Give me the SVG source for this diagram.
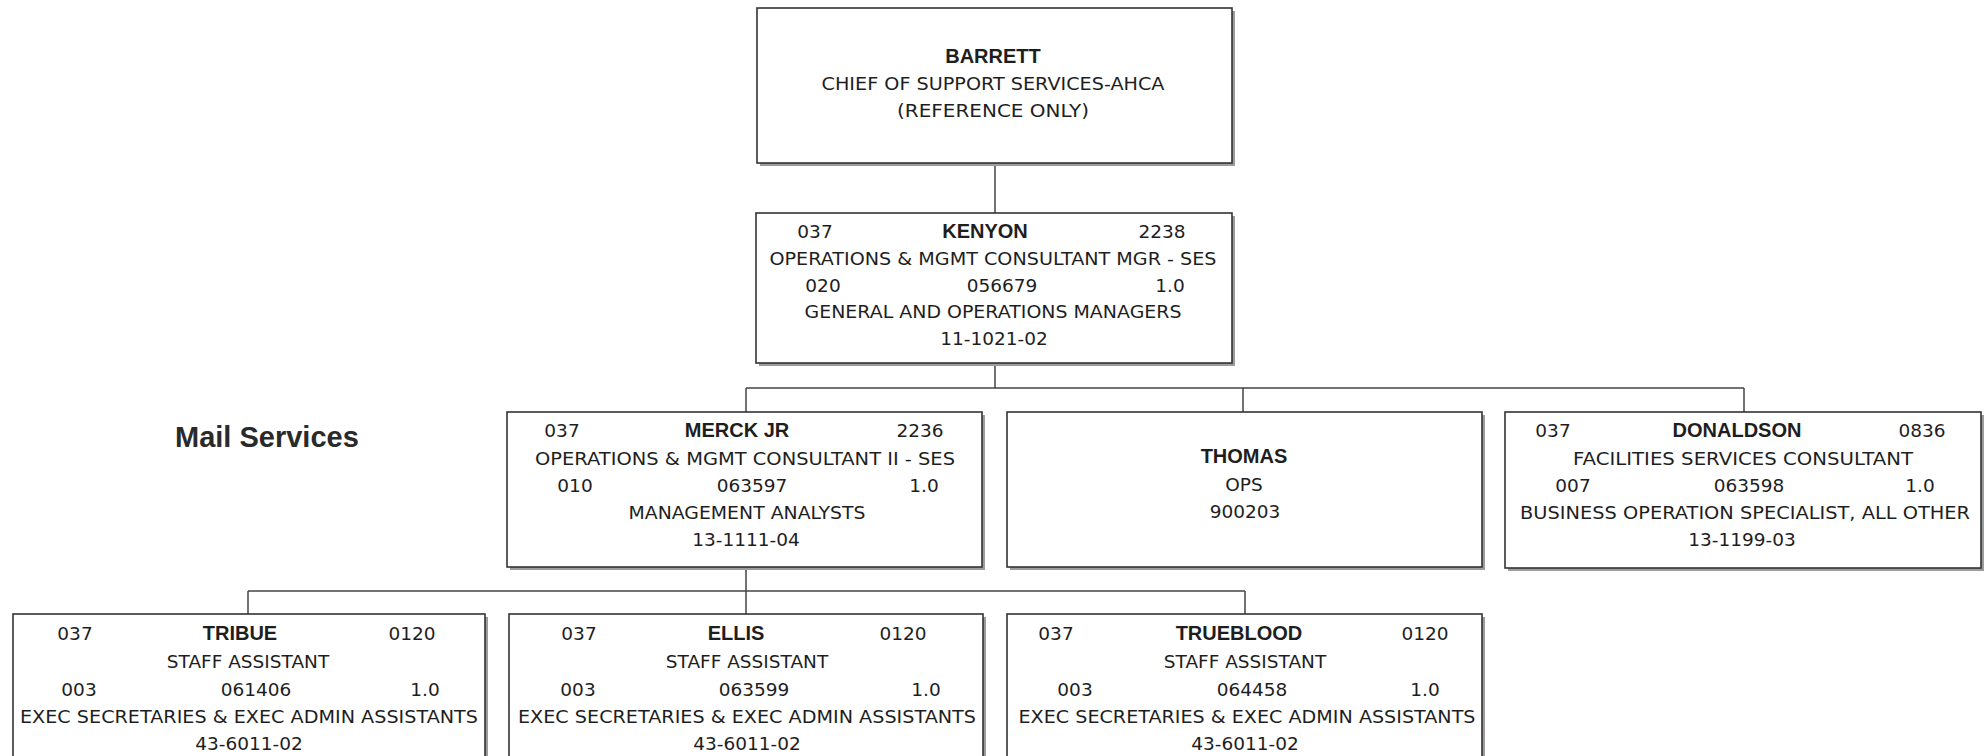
<svg xmlns="http://www.w3.org/2000/svg" width="1984" height="756" viewBox="0 0 1984 756">
  <style>
    .shadow { fill: #9c9c9c; }
    .box { fill: #ffffff; stroke: #333333; stroke-width: 1.6; }
    .t { font-family: "DejaVu Sans", Verdana, sans-serif; font-size: 18.5px; fill: #1e1e1e; text-anchor: middle; }
    .n { font-family: "Liberation Sans", Arial, sans-serif; font-weight: bold; font-size: 20px; fill: #1e1e1e; text-anchor: middle; }
    .conn { fill: none; stroke: #444444; stroke-width: 1.5; }
    .section { font-family: "Liberation Sans", Arial, sans-serif; font-weight: bold; font-size: 29px; fill: #2a2a2a; }
  </style>

  <rect width="1984" height="756" fill="#ffffff"/>

  <!-- reporting lines -->
  <g id="connectors">
    <path class="conn" d="M995 163 V213"/>
    <path class="conn" d="M995 363 V388 M746 388 H1744 M746 388 V412 M1243 388 V412 M1744 388 V412"/>
    <path class="conn" d="M746 567 V591 M248 591 H1245 M248 591 V614 M746 591 V614 M1245 591 V614"/>
  </g>

  <text class="section" x="175" y="447">Mail Services</text>

  <g id="barrett">
    <rect class="shadow" x="760" y="11" width="475" height="155"/>
    <rect class="box" x="757" y="8" width="475" height="155"/>
    <text class="n" x="993" y="63" font-size="22">BARRETT</text>
    <text class="t" x="993" y="90" textLength="343" lengthAdjust="spacingAndGlyphs">CHIEF OF SUPPORT SERVICES-AHCA</text>
    <text class="t" x="993" y="117" textLength="192" lengthAdjust="spacingAndGlyphs">(REFERENCE ONLY)</text>
  </g>

  <g id="kenyon">
    <rect class="shadow" x="759" y="216" width="476" height="150"/>
    <rect class="box" x="756" y="213" width="476" height="150"/>
    <text class="t" x="815" y="238">037</text>
    <text class="n" x="985" y="238">KENYON</text>
    <text class="t" x="1162" y="238">2238</text>
    <text class="t" x="993" y="265" textLength="447" lengthAdjust="spacingAndGlyphs">OPERATIONS &amp; MGMT CONSULTANT MGR - SES</text>
    <text class="t" x="823" y="292">020</text>
    <text class="t" x="1002" y="292">056679</text>
    <text class="t" x="1170" y="292">1.0</text>
    <text class="t" x="993" y="318" textLength="377" lengthAdjust="spacingAndGlyphs">GENERAL AND OPERATIONS MANAGERS</text>
    <text class="t" x="994" y="345">11-1021-02</text>
  </g>

  <g id="merck">
    <rect class="shadow" x="510" y="415" width="475" height="155"/>
    <rect class="box" x="507" y="412" width="475" height="155"/>
    <text class="t" x="562" y="437">037</text>
    <text class="n" x="737" y="437">MERCK JR</text>
    <text class="t" x="920" y="437">2236</text>
    <text class="t" x="745" y="465" textLength="420" lengthAdjust="spacingAndGlyphs">OPERATIONS &amp; MGMT CONSULTANT II - SES</text>
    <text class="t" x="575" y="492">010</text>
    <text class="t" x="752" y="492">063597</text>
    <text class="t" x="924" y="492">1.0</text>
    <text class="t" x="747" y="519" textLength="237" lengthAdjust="spacingAndGlyphs">MANAGEMENT ANALYSTS</text>
    <text class="t" x="746" y="546">13-1111-04</text>
  </g>

  <g id="thomas">
    <rect class="shadow" x="1010" y="415" width="475" height="155"/>
    <rect class="box" x="1007" y="412" width="475" height="155"/>
    <text class="n" x="1244" y="463">THOMAS</text>
    <text class="t" x="1244" y="491">OPS</text>
    <text class="t" x="1245" y="518">900203</text>
  </g>

  <g id="donaldson">
    <rect class="shadow" x="1508" y="415" width="476" height="156"/>
    <rect class="box" x="1505" y="412" width="476" height="156"/>
    <text class="t" x="1553" y="437">037</text>
    <text class="n" x="1737" y="437">DONALDSON</text>
    <text class="t" x="1922" y="437">0836</text>
    <text class="t" x="1743" y="465" textLength="340" lengthAdjust="spacingAndGlyphs">FACILITIES SERVICES CONSULTANT</text>
    <text class="t" x="1573" y="492">007</text>
    <text class="t" x="1749" y="492">063598</text>
    <text class="t" x="1920" y="492">1.0</text>
    <text class="t" x="1745" y="519" textLength="450" lengthAdjust="spacingAndGlyphs">BUSINESS OPERATION SPECIALIST, ALL OTHER</text>
    <text class="t" x="1742" y="546">13-1199-03</text>
  </g>

  <g id="tribue">
    <rect class="shadow" x="16" y="617" width="472" height="150"/>
    <rect class="box" x="13" y="614" width="472" height="150"/>
    <text class="t" x="75" y="640">037</text>
    <text class="n" x="240" y="640">TRIBUE</text>
    <text class="t" x="412" y="640">0120</text>
    <text class="t" x="248" y="668">STAFF ASSISTANT</text>
    <text class="t" x="79" y="696">003</text>
    <text class="t" x="256" y="696">061406</text>
    <text class="t" x="425" y="696">1.0</text>
    <text class="t" x="249" y="723" textLength="458" lengthAdjust="spacingAndGlyphs">EXEC SECRETARIES &amp; EXEC ADMIN ASSISTANTS</text>
    <text class="t" x="249" y="750">43-6011-02</text>
  </g>

  <g id="ellis">
    <rect class="shadow" x="512" y="617" width="474" height="150"/>
    <rect class="box" x="509" y="614" width="474" height="150"/>
    <text class="t" x="579" y="640">037</text>
    <text class="n" x="736" y="640">ELLIS</text>
    <text class="t" x="903" y="640">0120</text>
    <text class="t" x="747" y="668">STAFF ASSISTANT</text>
    <text class="t" x="578" y="696">003</text>
    <text class="t" x="754" y="696">063599</text>
    <text class="t" x="926" y="696">1.0</text>
    <text class="t" x="747" y="723" textLength="458" lengthAdjust="spacingAndGlyphs">EXEC SECRETARIES &amp; EXEC ADMIN ASSISTANTS</text>
    <text class="t" x="747" y="750">43-6011-02</text>
  </g>

  <g id="trueblood">
    <rect class="shadow" x="1010" y="617" width="475" height="150"/>
    <rect class="box" x="1007" y="614" width="475" height="150"/>
    <text class="t" x="1056" y="640">037</text>
    <text class="n" x="1239" y="640">TRUEBLOOD</text>
    <text class="t" x="1425" y="640">0120</text>
    <text class="t" x="1245" y="668">STAFF ASSISTANT</text>
    <text class="t" x="1075" y="696">003</text>
    <text class="t" x="1252" y="696">064458</text>
    <text class="t" x="1425" y="696">1.0</text>
    <text class="t" x="1247" y="723" textLength="457" lengthAdjust="spacingAndGlyphs">EXEC SECRETARIES &amp; EXEC ADMIN ASSISTANTS</text>
    <text class="t" x="1245" y="750">43-6011-02</text>
  </g>
</svg>
